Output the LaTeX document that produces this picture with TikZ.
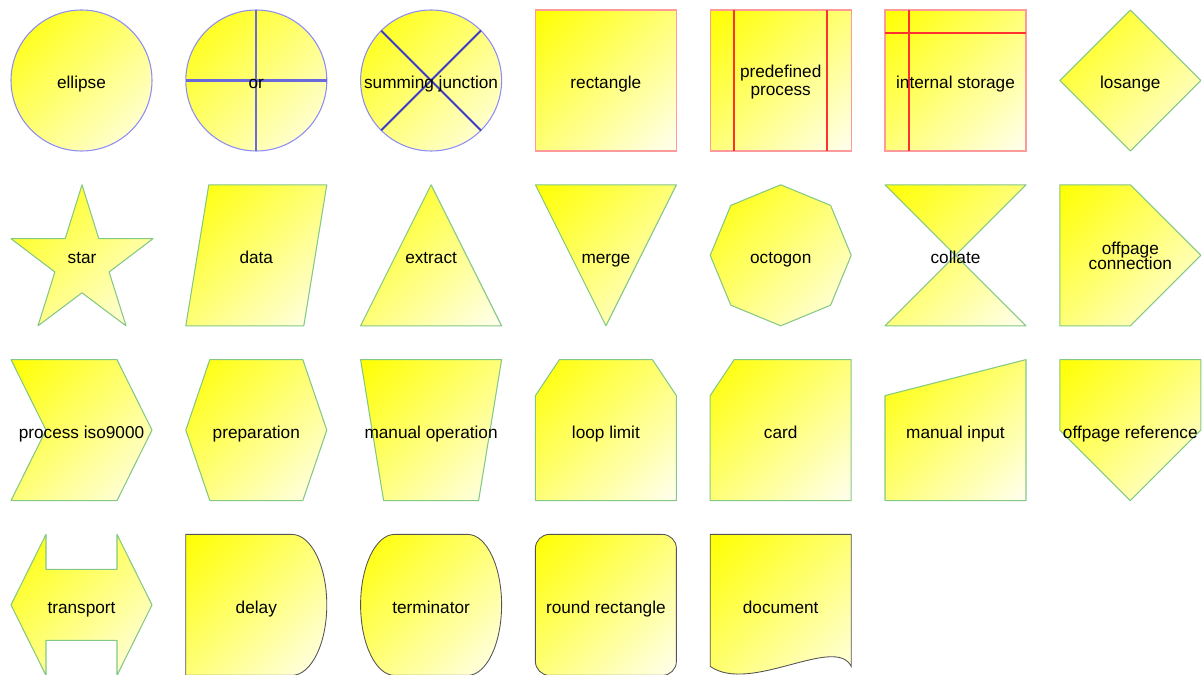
\documentclass[tikz,border=0pt]{standalone}
\usepackage{fontspec}
\setmainfont{Liberation Sans}
\usepackage{tikz}
\definecolor{circleblue}{HTML}{8C8CF5}
\definecolor{crossblue}{HTML}{6A6ADC}
\definecolor{sumblue}{HTML}{3C3CC8}
\definecolor{boxpink}{HTML}{FF9A9A}
\definecolor{boxred}{HTML}{FF3030}
\definecolor{shapegreen}{HTML}{84C884}
\definecolor{curvegray}{HTML}{555555}
\definecolor{paleend}{HTML}{FFFFF0}
% corner-to-corner yellow fill (used at 45 degrees)
\pgfdeclareverticalshading{diagfill}{100bp}{color(0bp)=(paleend); color(14.6bp)=(paleend);
  color(85.4bp)=(yellow); color(100bp)=(yellow)}

\begin{document}
\begin{tikzpicture}[x=0.02cm, y=-0.02cm,
  every node/.style={font=\fontsize{9.8}{10.4}\selectfont, align=center, inner sep=0pt},
  lbl/.style={anchor=base},
  grad/.style={shade, shading=diagfill, shading angle=45},
  bluecirc/.style={grad, draw=circleblue, line width=0.6pt},
  pinkbox/.style={grad, draw=boxpink, line width=0.6pt},
  greenshape/.style={grad, draw=shapegreen, line width=0.6pt, line join=round},
  grayshape/.style={grad, draw=curvegray, line width=0.5pt},
  crossline/.style={crossblue, line width=1.2pt},
  sumline/.style={sumblue, line width=1.1pt},
  redline/.style={boxred, line width=0.9pt},
  cell/.style 2 args={shift={({11+174.8*#1},{10+174.8*#2})}}]
  \useasboundingbox (0,0) rectangle (1202,675);

  % --- Row 1: circles and boxes ---
  \begin{scope}[cell={0}{0}]
    \draw[bluecirc] (70.5,70.5) circle (70.5);
    \node[lbl] (ellipse) at (70.5,79) {ellipse};
  \end{scope}
  \begin{scope}[cell={1}{0}]
    \draw[bluecirc] (70.5,70.5) circle (70.5);
    \draw[crossline] (70.5,0) -- (70.5,141);
    \draw[crossline] (0,70.5) -- (141,70.5);
    \node[lbl] (or) at (70.5,79) {or};
  \end{scope}
  \begin{scope}[cell={2}{0}]
    \draw[bluecirc] (70.5,70.5) circle (70.5);
    \draw[sumline] (20.6,20.6) -- (120.4,120.4);
    \draw[sumline] (120.4,20.6) -- (20.6,120.4);
    \node[lbl] (summing) at (70.5,79) {summing junction};
  \end{scope}
  \begin{scope}[cell={3}{0}]
    \draw[pinkbox] (0,0) rectangle (141,141);
    \node[lbl] (rectangle) at (70.5,79) {rectangle};
  \end{scope}
  \begin{scope}[cell={4}{0}]
    \draw[pinkbox] (0,0) rectangle (141,141);
    \draw[redline] (24,0) -- (24,141);
    \draw[redline] (117,0) -- (117,141);
    \node (predefined) at (70.5,72) {predefined\\process};
  \end{scope}
  \begin{scope}[cell={5}{0}]
    \draw[pinkbox] (0,0) rectangle (141,141);
    \draw[redline] (24,0) -- (24,141);
    \draw[redline] (0,23) -- (141,23);
    \node[lbl] (storage) at (70.5,79) {internal storage};
  \end{scope}
  \begin{scope}[cell={6}{0}]
    \draw[greenshape] (70.5,0) -- (141,70.5) -- (70.5,141) -- (0,70.5) -- cycle;
    \node[lbl] (losange) at (70.5,79) {losange};
  \end{scope}

  % --- Row 2: star, triangles, polygons ---
  \begin{scope}[cell={0}{1}]
    \draw[greenshape] (71,0) -- (87.8,53.9) -- (142,53.9) -- (98.1,87.2) -- (115,141)
      -- (71,108) -- (27,141) -- (43.9,87.2) -- (0,53.9) -- (54.2,53.9) -- cycle;
    \node[lbl] (star) at (71,79) {star};
  \end{scope}
  \begin{scope}[cell={1}{1}]
    \draw[greenshape] (23,0) -- (141,0) -- (118,141) -- (0,141) -- cycle;
    \node[lbl] (data) at (70.5,79) {data};
  \end{scope}
  \begin{scope}[cell={2}{1}]
    \draw[greenshape] (70.5,0) -- (141,141) -- (0,141) -- cycle;
    \node[lbl] (extract) at (70.5,79) {extract};
  \end{scope}
  \begin{scope}[cell={3}{1}]
    \draw[greenshape] (0,0) -- (141,0) -- (70.5,141) -- cycle;
    \node[lbl] (merge) at (70.5,79) {merge};
  \end{scope}
  \begin{scope}[cell={4}{1}]
    \draw[greenshape] (70.5,0) -- (120.4,20.6) -- (141,70.5) -- (120.4,120.4) -- (70.5,141)
      -- (20.6,120.4) -- (0,70.5) -- (20.6,20.6) -- cycle;
    \node[lbl] (octogon) at (70.5,79) {octogon};
  \end{scope}
  \begin{scope}[cell={5}{1}]
    \draw[greenshape] (0,0) -- (141,0) -- (0,141) -- (141,141) -- cycle;
    \node[lbl] (collate) at (70.5,79) {collate};
  \end{scope}
  \begin{scope}[cell={6}{1}]
    \draw[greenshape] (0,0) -- (70.5,0) -- (141,70.5) -- (70.5,141) -- (0,141) -- cycle;
    \node (offconn) at (70.5,71) {offpage\\[-2pt]connection};
  \end{scope}

  % --- Row 3: process shapes ---
  \begin{scope}[cell={0}{2}]
    \draw[greenshape] (0,0) -- (106,0) -- (141,70.5) -- (106,141) -- (0,141) -- (35,70.5) -- cycle;
    \node[lbl] (iso) at (70.5,79) {process iso9000};
  \end{scope}
  \begin{scope}[cell={1}{2}]
    \draw[greenshape] (24,0) -- (117,0) -- (141,70.5) -- (117,141) -- (24,141) -- (0,70.5) -- cycle;
    \node[lbl] (preparation) at (70.5,79) {preparation};
  \end{scope}
  \begin{scope}[cell={2}{2}]
    \draw[greenshape] (0,0) -- (141,0) -- (118,141) -- (23,141) -- cycle;
    \node[lbl] (manop) at (70.5,79) {manual operation};
  \end{scope}
  \begin{scope}[cell={3}{2}]
    \draw[greenshape] (0,36) -- (24,0) -- (117,0) -- (141,36) -- (141,141) -- (0,141) -- cycle;
    \node[lbl] (loop) at (70.5,79) {loop limit};
  \end{scope}
  \begin{scope}[cell={4}{2}]
    \draw[greenshape] (0,36) -- (24,0) -- (141,0) -- (141,141) -- (0,141) -- cycle;
    \node[lbl] (card) at (70.5,79) {card};
  \end{scope}
  \begin{scope}[cell={5}{2}]
    \draw[greenshape] (0,36) -- (141,0) -- (141,141) -- (0,141) -- cycle;
    \node[lbl] (maninput) at (70.5,79) {manual input};
  \end{scope}
  \begin{scope}[cell={6}{2}]
    \draw[greenshape] (0,0) -- (141,0) -- (141,70.5) -- (70.5,141) -- (0,70.5) -- cycle;
    \node[lbl] (offref) at (70.5,79) {offpage reference};
  \end{scope}

  % --- Row 4: curved shapes ---
  \begin{scope}[cell={0}{3}]
    \draw[greenshape] (0,70.5) -- (35,0) -- (35,35) -- (106,35) -- (106,0) -- (141,70.5)
      -- (106,141) -- (106,106) -- (35,106) -- (35,141) -- cycle;
    \node[lbl] (transport) at (70.5,79) {transport};
  \end{scope}
  \begin{scope}[cell={1}{3}]
    \draw[grayshape] (0,0) -- (106,0) .. controls (125.3,0) and (141,31.6) .. (141,70.5)
      .. controls (141,109.4) and (125.3,141) .. (106,141) -- (0,141) -- cycle;
    \node[lbl] (delay) at (70.5,79) {delay};
  \end{scope}
  \begin{scope}[cell={2}{3}]
    \draw[grayshape] (34,0) -- (107,0) .. controls (125.8,0) and (141,31.6) .. (141,70.5)
      .. controls (141,109.4) and (125.8,141) .. (107,141) -- (34,141)
      .. controls (15.2,141) and (0,109.4) .. (0,70.5) .. controls (0,31.6) and (15.2,0) .. (34,0) -- cycle;
    \node[lbl] (terminator) at (70.5,79) {terminator};
  \end{scope}
  \begin{scope}[cell={3}{3}]
    \draw[grayshape, rounded corners=8pt] (0,0) rectangle (141,141);
    \node[lbl] (roundrect) at (70.5,79) {round rectangle};
  \end{scope}
  \begin{scope}[cell={4}{3}]
    \draw[grayshape] (0,0) -- (141,0) -- (141,132) .. controls (125,100) and (40,160) .. (0,132) -- cycle;
    \node[lbl] (document) at (70.5,79) {document};
  \end{scope}
\end{tikzpicture}
\end{document}
